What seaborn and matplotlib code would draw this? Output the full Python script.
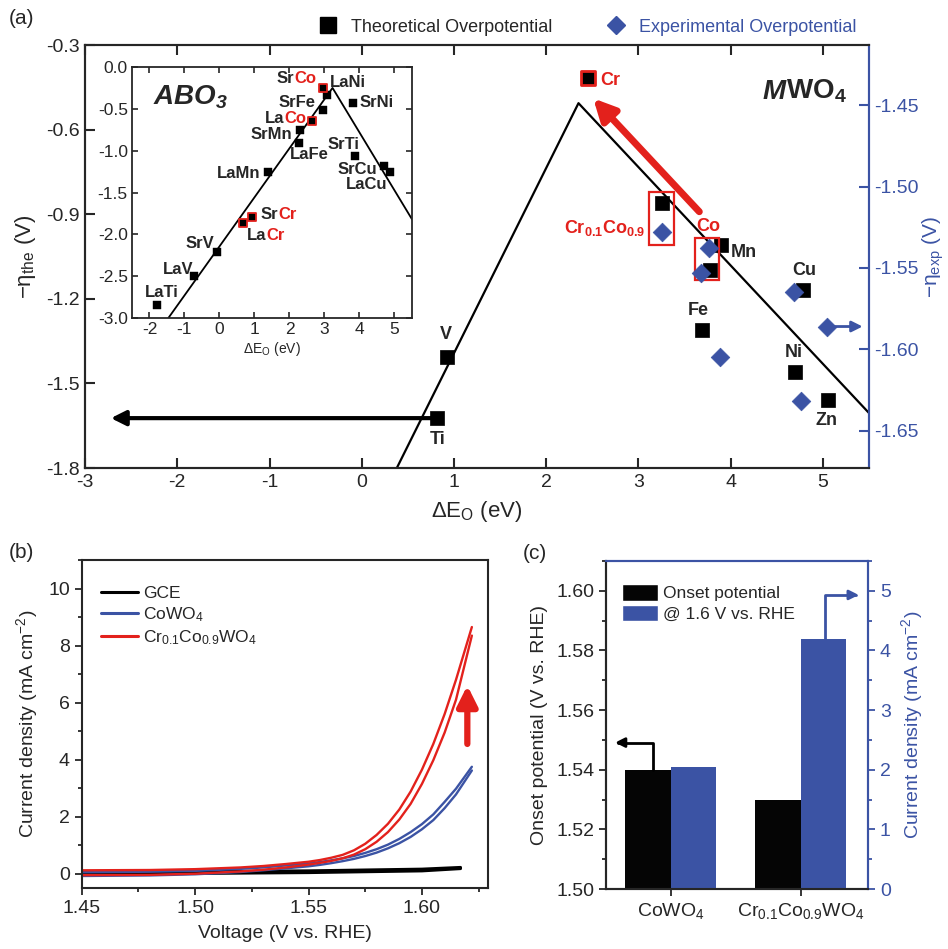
import numpy as np
import pandas as pd
import seaborn as sns
import matplotlib.pyplot as plt
from matplotlib.lines import Line2D
from matplotlib.patches import Rectangle, Patch
from matplotlib.ticker import FormatStrFormatter, MultipleLocator

# ---------------- data ----------------
# (a) MWO4 volcano, theoretical overpotential (left axis)
theo_metal = ['Ti', 'V', 'Cr', 'Mn', 'Fe', 'Co', 'Ni', 'Cu', 'Zn', 'Cr0.1Co0.9']
theo_dEO = [0.82, 0.92, 2.45, 3.89, 3.69, 3.78, 4.70, 4.78, 5.05, 3.26]
theo_eta = [-1.623, -1.406, -0.417, -1.009, -1.310, -1.098, -1.460, -1.169, -1.559, -0.860]

# (a) experimental overpotential (right axis)
exp_metal = ['Cr0.1Co0.9', 'Mn', 'Co', 'Cu', 'Zn', 'Fe', 'Ni']
exp_dEO = [3.26, 3.76, 3.68, 4.69, 5.04, 3.88, 4.76]
exp_eta = [-1.528, -1.538, -1.553, -1.565, -1.586, -1.605, -1.632]

volcano_dEO = [0.38, 2.35, 5.5]
volcano_eta = [-1.8, -0.506, -1.605]

# inset ABO3 perovskites
abo_name = ['LaTi', 'LaV', 'SrV', 'LaCr', 'SrCr', 'LaMn', 'LaFe', 'SrMn',
            'LaCo', 'SrFe', 'SrCo', 'LaNi', 'SrNi', 'SrTi', 'SrCu', 'LaCu']
abo_dEO = [-1.78, -0.72, -0.06, 0.68, 0.93, 1.39, 2.28, 2.29,
           2.64, 2.95, 2.97, 3.06, 3.82, 3.87, 4.70, 4.86]
abo_eta = [-2.85, -2.50, -2.21, -1.87, -1.79, -1.26, -0.91, -0.755,
           -0.64, -0.51, -0.25, -0.33, -0.425, -1.065, -1.18, -1.26]
abo_cr_co = ['LaCr', 'SrCr', 'LaCo', 'SrCo']
abo_volcano_dEO = [-1.46, 3.23, 5.5]
abo_volcano_eta = [-3.0, -0.25, -1.82]

# (b) LSV curves, two sweeps each
lsv_V = [1.45, 1.48, 1.50, 1.52, 1.53, 1.54, 1.55, 1.555, 1.56, 1.565, 1.57, 1.575,
         1.58, 1.585, 1.59, 1.595, 1.60, 1.605, 1.61, 1.615, 1.622]
red_up = [0.12, 0.13, 0.16, 0.22, 0.27, 0.34, 0.42, 0.48, 0.56, 0.66, 0.82, 1.05,
          1.36, 1.75, 2.25, 2.88, 3.65, 4.55, 5.60, 6.80, 8.65]
red_dn = [-0.05, -0.04, 0.0, 0.08, 0.14, 0.22, 0.32, 0.38, 0.45, 0.54, 0.67, 0.86,
          1.12, 1.46, 1.90, 2.45, 3.15, 3.98, 4.95, 6.10, 8.35]
blue_up = [0.05, 0.07, 0.10, 0.17, 0.22, 0.29, 0.36, 0.41, 0.47, 0.54, 0.62, 0.73,
           0.86, 1.02, 1.22, 1.46, 1.74, 2.08, 2.52, 2.98, 3.75]
blue_dn = [-0.08, -0.06, -0.02, 0.06, 0.12, 0.19, 0.26, 0.31, 0.37, 0.44, 0.52, 0.62,
           0.74, 0.89, 1.07, 1.29, 1.56, 1.88, 2.30, 2.78, 3.62]
gce_V = [1.45, 1.50, 1.55, 1.60, 1.617]
gce_up = [0.05, 0.07, 0.10, 0.16, 0.22]
gce_dn = [0.0, 0.01, 0.04, 0.10, 0.18]
lsv_names = ['GCE', 'CoWO$_4$', 'Cr$_{0.1}$Co$_{0.9}$WO$_4$']

# (c) bars
samples = ['CoWO$_4$', 'Cr$_{0.1}$Co$_{0.9}$WO$_4$']
onset = [1.540, 1.530]
current = [2.04, 4.19]
series_names = ['Onset potential', '@ 1.6 V vs. RHE']

RED = '#e3211c'
BLUE = '#3b53a4'

sns.set_style('ticks')
plt.rcParams['font.family'] = ['Liberation Sans', 'DejaVu Sans']
plt.rcParams['axes.unicode_minus'] = False
plt.rcParams['mathtext.default'] = 'regular'
plt.rcParams['axes.linewidth'] = 1.5

fig = plt.figure(figsize=(9.48, 9.49), dpi=100)

# ---------------- panel (a) ----------------
ax = fig.add_axes([0.0897, 0.5068, 0.827, 0.4457])
theo = pd.DataFrame({'metal': theo_metal, 'dEO': theo_dEO, 'eta': theo_eta})
expd = pd.DataFrame({'metal': exp_metal, 'dEO': exp_dEO, 'eta': exp_eta})

sns.lineplot(x=volcano_dEO, y=volcano_eta, sort=False, estimator=None,
             color='k', lw=1.6, ax=ax)
sns.scatterplot(data=theo[theo.metal != 'Cr'], x='dEO', y='eta', marker='s', s=105,
                color='k', edgecolor='k', linewidth=0.5, ax=ax, zorder=4)
sns.scatterplot(data=theo[theo.metal == 'Cr'], x='dEO', y='eta', marker='s', s=105,
                color='k', edgecolor=RED, linewidth=2, ax=ax, zorder=4)

ax2 = ax.twinx()
sns.scatterplot(data=expd, x='dEO', y='eta', marker='D', s=90, color=BLUE,
                edgecolor=BLUE, linewidth=0.5, ax=ax2, zorder=4)

ax.set_xlim(-3, 5.5)
ax.set_ylim(-1.8, -0.3)
ax2.set_ylim(-1.673, -1.413)
ax.set_xticks(range(-3, 6))
ax.set_yticks(np.arange(-1.8, -0.29, 0.3))
ax.yaxis.set_major_formatter(FormatStrFormatter('%.1f'))
ax2.set_yticks([-1.65, -1.60, -1.55, -1.50, -1.45])
ax2.yaxis.set_major_formatter(FormatStrFormatter('%.2f'))
ax.tick_params(direction='in', length=7, width=1.5, labelsize=14, top=True, right=False, pad=4)
ax2.tick_params(axis='y', direction='in', length=7, width=1.5, labelsize=14,
                colors=BLUE, pad=4)
ax.spines['right'].set_color(BLUE)
ax2.spines['right'].set_color(BLUE)
ax2.spines['right'].set_linewidth(1.5)
ax.set_xlabel('ΔE$_O$ (eV)', fontsize=16, labelpad=6)
ax.set_ylabel('−η$_{the}$ (V)', fontsize=16, labelpad=6)
ax2.set_ylabel('−η$_{exp}$ (V)', fontsize=15, color=BLUE, labelpad=1)

# red boxes around doped / Co points
ax.add_patch(Rectangle((3.11, -1.009), 0.271, 0.189, fill=False, ec=RED, lw=1.6, zorder=5))
ax.add_patch(Rectangle((3.608, -1.133), 0.268, 0.148, fill=False, ec=RED, lw=1.6, zorder=5))

# arrows
ax.annotate('', xy=(2.51, -0.489), xytext=(3.66, -0.891),
            arrowprops=dict(arrowstyle='-|>', color=RED, lw=5, mutation_scale=32,
                            shrinkA=0, shrinkB=0))
ax.annotate('', xy=(-2.72, -1.623), xytext=(0.78, -1.623),
            arrowprops=dict(arrowstyle='-|>', color='k', lw=3, mutation_scale=22,
                            shrinkA=0, shrinkB=0), zorder=3)
ax2.annotate('', xy=(5.43, -1.586), xytext=(5.06, -1.586),
             arrowprops=dict(arrowstyle='-|>', color=BLUE, lw=2, mutation_scale=16,
                             shrinkA=0, shrinkB=0))

lab_kw = dict(fontsize=13, fontweight='bold', va='center')
for txt, x, y, ha in [('V', 0.915, -1.328, 'center'), ('Ti', 0.82, -1.70, 'center'),
                      ('Mn', 4.0, -1.034, 'left'), ('Cu', 4.80, -1.098, 'center'),
                      ('Fe', 3.65, -1.24, 'center'), ('Ni', 4.68, -1.39, 'center'),
                      ('Zn', 5.04, -1.63, 'center')]:
    ax.text(x, y, txt, ha=ha, **lab_kw)
ax.text(2.59, -0.425, 'Cr', ha='left', color=RED, **lab_kw)
ax.text(3.757, -0.942, 'Co', ha='center', color=RED, **lab_kw)
ax.text(3.07, -0.949, 'Cr$_{0.1}$Co$_{0.9}$', ha='right', color=RED, **lab_kw)
mt = ax.text(4.35, -0.467, 'M', fontsize=20, fontweight='bold', style='italic', va='center')
ax.annotate('WO$_4$', xy=(1, 0), xycoords=mt, va='bottom', ha='left', fontsize=20,
            fontweight='bold')

leg_handles = [Line2D([], [], marker='s', ls='', color='k', markersize=11),
               Line2D([], [], marker='D', ls='', color=BLUE, markersize=9)]
leg = fig.legend(leg_handles, ['Theoretical Overpotential', 'Experimental Overpotential'],
                 loc='center', bbox_to_anchor=(0.615, 0.9715), ncol=2, frameon=False,
                 fontsize=13, handletextpad=0.3, columnspacing=2.5)
leg.get_texts()[1].set_color(BLUE)

# ---------------- inset ----------------
ins = fig.add_axes([0.1392, 0.6649, 0.2954, 0.2645])
abo = pd.DataFrame({'name': abo_name, 'dEO': abo_dEO, 'eta': abo_eta})
sns.lineplot(x=abo_volcano_dEO, y=abo_volcano_eta, sort=False, estimator=None,
             color='k', lw=1.3, ax=ins)
sns.scatterplot(data=abo[~abo.name.isin(abo_cr_co)], x='dEO', y='eta', marker='s', s=28,
                color='k', edgecolor='k', linewidth=0.3, ax=ins, zorder=4)
sns.scatterplot(data=abo[abo.name.isin(abo_cr_co)], x='dEO', y='eta', marker='s', s=26,
                color='k', edgecolor=RED, linewidth=1.3, ax=ins, zorder=4)
ins.set_xlim(-2.5, 5.5)
ins.set_ylim(-3.0, 0.0)
ins.set_xticks(range(-2, 6))
ins.set_yticks(np.arange(-3.0, 0.01, 0.5))
ins.yaxis.set_major_formatter(FormatStrFormatter('%.1f'))
ins.tick_params(direction='in', length=4, width=1.2, labelsize=12.5, top=True, right=True, pad=3)
for s in ins.spines.values():
    s.set_linewidth(1.3)
ins.set_xlabel('ΔE$_O$ (eV)', fontsize=10, labelpad=2)
ins.set_ylabel('')

ikw = dict(fontsize=12, fontweight='bold', va='center', ha='left')
for black, red, x, y in [('LaTi', '', -2.13, -2.69), ('LaV', '', -1.62, -2.42),
                         ('SrV', '', -0.98, -2.11), ('Sr', 'Cr', 1.17, -1.76),
                         ('La', 'Cr', 0.79, -2.01), ('LaMn', '', -0.06, -1.27),
                         ('LaFe', '', 2.0, -1.05), ('SrMn', '', 0.885, -0.81),
                         ('La', 'Co', 1.31, -0.61), ('SrFe', '', 1.69, -0.43),
                         ('Sr', 'Co', 1.64, -0.14), ('LaNi', '', 3.16, -0.19),
                         ('SrNi', '', 4.0, -0.43), ('SrTi', '', 3.08, -0.93),
                         ('SrCu', '', 3.36, -1.22), ('LaCu', '', 3.61, -1.41)]:
    t = ins.text(x, y, black, **ikw)
    if red:
        ins.annotate(red, xy=(1, 0), xycoords=t, va='bottom', ha='left', color=RED,
                     fontsize=12, fontweight='bold')
ins.text(-1.9, -0.36, 'ABO$_3$', fontsize=20, fontweight='bold', style='italic',
         va='center', ha='left')

# ---------------- panel (b) ----------------
axb = fig.add_axes([0.0862, 0.0643, 0.4283, 0.3456])
parts = []
for name, V, up, dn in [(lsv_names[0], gce_V, gce_up, gce_dn),
                        (lsv_names[1], lsv_V, blue_up, blue_dn),
                        (lsv_names[2], lsv_V, red_up, red_dn)]:
    parts.append(pd.DataFrame({'V': V, 'j': up, 'sample': name, 'branch': 'fwd'}))
    parts.append(pd.DataFrame({'V': V, 'j': dn, 'sample': name, 'branch': 'bwd'}))
lsv = pd.concat(parts, ignore_index=True)
lsv_colors = ['k', BLUE, RED]
lsv_lw = [2.2, 1.7, 1.7]
for name, c, lw in zip(lsv_names, lsv_colors, lsv_lw):
    sns.lineplot(data=lsv[lsv['sample'] == name], x='V', y='j', units='branch',
                 estimator=None, sort=False, color=c, lw=lw, ax=axb)
axb.set_xlim(1.45, 1.629)
axb.set_ylim(-0.5, 11)
axb.set_xticks([1.45, 1.50, 1.55, 1.60])
axb.xaxis.set_major_formatter(FormatStrFormatter('%.2f'))
axb.xaxis.set_minor_locator(MultipleLocator(0.025))
axb.set_yticks(range(0, 11, 2))
axb.yaxis.set_minor_locator(MultipleLocator(1))
axb.tick_params(which='both', direction='out', width=1.3, labelsize=14)
axb.tick_params(which='major', length=5)
axb.tick_params(which='minor', length=3)
axb.set_xlabel('Voltage (V vs. RHE)', fontsize=14, labelpad=6)
axb.set_ylabel('Current density (mA cm$^{-2}$)', fontsize=14, labelpad=6)
axb.annotate('', xy=(1.62, 6.6), xytext=(1.62, 4.55),
             arrowprops=dict(arrowstyle='-|>', color=RED, lw=4.5, mutation_scale=30,
                             shrinkA=0, shrinkB=0))
lsv_handles = [Line2D([], [], color=c, lw=2.2) for c in lsv_colors]
axb.legend(lsv_handles, lsv_names, loc='upper left', bbox_to_anchor=(0.01, 0.97),
           frameon=False, fontsize=12.5, handlelength=2.1, handletextpad=0.3,
           labelspacing=0.25)

# ---------------- panel (c) ----------------
axc = fig.add_axes([0.6392, 0.0632, 0.2764, 0.3457])
axc2 = axc.twinx()
onset_df = pd.DataFrame({'sample': samples, 'value': onset, 'series': series_names[0]})
current_df = pd.DataFrame({'sample': samples, 'value': current, 'series': series_names[1]})
bar_kw = dict(x='sample', y='value', hue='series', hue_order=series_names, order=samples,
              palette=['#050505', BLUE], width=0.7, dodge=True, saturation=1, legend=False,
              linewidth=0)
sns.barplot(data=onset_df, ax=axc, **bar_kw)
sns.barplot(data=current_df, ax=axc2, **bar_kw)
axc.set_xlim(-0.5, 1.52)
axc.set_ylim(1.50, 1.61)
axc2.set_ylim(0, 5.5)
axc.set_yticks(np.arange(1.50, 1.601, 0.02))
axc.yaxis.set_major_formatter(FormatStrFormatter('%.2f'))
axc.yaxis.set_minor_locator(MultipleLocator(0.01))
axc2.set_yticks(range(0, 6))
axc2.yaxis.set_minor_locator(MultipleLocator(0.5))
axc.tick_params(which='both', direction='out', width=1.3, labelsize=14)
axc.tick_params(which='major', length=5)
axc.tick_params(which='minor', length=3)
axc2.tick_params(which='both', direction='out', width=1.3, labelsize=14, colors=BLUE)
axc2.tick_params(which='major', length=5)
axc2.tick_params(which='minor', length=3)
for a in (axc, axc2):
    a.spines['right'].set_color(BLUE)
    a.spines['top'].set_color(BLUE)
axc.set_xlabel('')
axc2.set_xlabel('')
axc.set_ylabel('Onset potential (V vs. RHE)', fontsize=14, labelpad=6)
axc2.set_ylabel('Current density (mA cm$^{-2}$)', fontsize=14, color=BLUE, labelpad=6)
axc.annotate('', xy=(-0.43, 1.5491), xytext=(-0.139, 1.540),
             arrowprops=dict(arrowstyle='-|>', connectionstyle='angle,angleA=90,angleB=0,rad=0',
                             color='k', lw=2, mutation_scale=14, shrinkA=0, shrinkB=0))
axc2.annotate('', xy=(1.449, 4.93), xytext=(1.19, 4.19),
              arrowprops=dict(arrowstyle='-|>', connectionstyle='angle,angleA=90,angleB=0,rad=0',
                              color=BLUE, lw=2, mutation_scale=14, shrinkA=0, shrinkB=0))
bar_handles = [Patch(facecolor='#050505'), Patch(facecolor=BLUE)]
axc.legend(bar_handles, series_names, loc='upper left', bbox_to_anchor=(0.02, 0.96),
           frameon=False, fontsize=12.5, handlelength=2.1, handleheight=1.05,
           handletextpad=0.3, labelspacing=0.2, borderaxespad=0.2)

fig.text(0.009, 0.981, '(a)', fontsize=15, va='center')
fig.text(0.009, 0.418, '(b)', fontsize=15, va='center')
fig.text(0.551, 0.417, '(c)', fontsize=15, va='center')

fig.savefig('out.png', dpi=100)
